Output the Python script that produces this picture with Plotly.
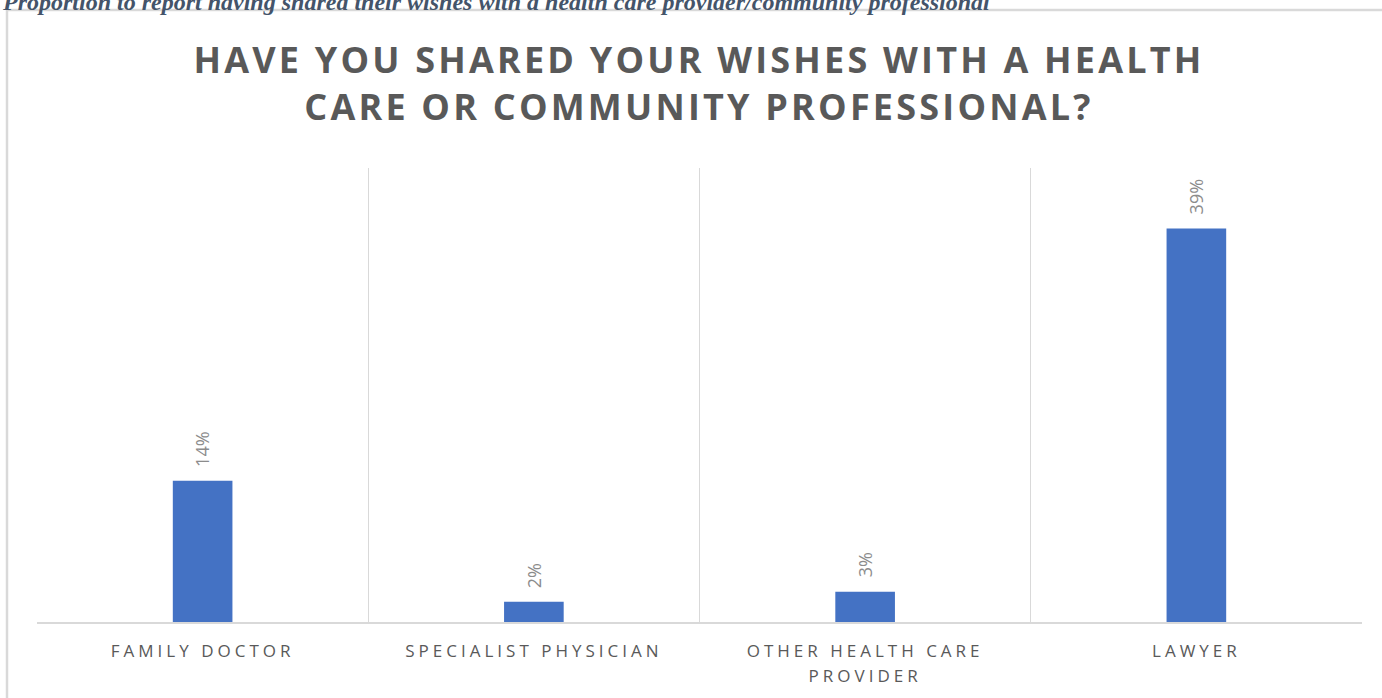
import plotly.graph_objects as go

categories = ["FAMILY DOCTOR", "SPECIALIST PHYSICIAN", "OTHER HEALTH CARE<br>PROVIDER", "LAWYER"]
values = [14, 2, 3, 39]
value_labels = ["14%", "2%", "3%", "39%"]

title_text = "HAVE YOU SHARED YOUR WISHES WITH A HEALTH<br>CARE OR COMMUNITY PROFESSIONAL?"
caption_text = "Proportion to report having shared their wishes with a health care provider/community professional"

W, H = 1382, 698
L, R, T, B = 37, 20, 168, 76
pw, ph = W - L - R, H - T - B

def px_x(px):
    return (px - L) / pw

def px_y(py):
    return (H - B - py) / ph

fig = go.Figure()
fig.add_trace(go.Bar(
    x=categories, y=values, width=0.18,
    marker=dict(color="#4472C4", line=dict(width=0)),
    hoverinfo="skip",
))

for c, v, t in zip(categories, values, value_labels):
    fig.add_annotation(
        x=c, y=v, xref="x", yref="y", text=t, showarrow=False,
        textangle=-90, yanchor="bottom", yshift=12,
        font=dict(family="Open Sans", size=18, color="#8c8c8c"),
    )

# caption (cut at top of page, as in the source)
fig.add_annotation(
    x=px_x(0), y=px_y(17), xref="paper", yref="paper", xanchor="left", yanchor="bottom",
    text="<b><i>" + caption_text + "</i></b>", showarrow=False,
    font=dict(family="Liberation Serif", size=24, color="#44546A"),
)

# chart border
fig.add_shape(type="rect", xref="paper", yref="paper",
              x0=px_x(7), x1=px_x(1395), y0=px_y(720), y1=px_y(10),
              line=dict(color="#D9D9D9", width=2.5), layer="below")

fig.update_layout(
    width=W, height=H,
    margin=dict(l=L, r=R, t=T, b=B),
    paper_bgcolor="white", plot_bgcolor="white",
    showlegend=False,
    title=dict(text="<b>" + title_text + "</b>", x=px_x(699), xref="paper", xanchor="center",
               y=1 - 73 / H, yref="container", yanchor="middle",
               font=dict(family="Open Sans", size=36, color="#595959")),
    xaxis=dict(
        type="category", tickson="boundaries", showgrid=True, gridcolor="#D9D9D9", gridwidth=1,
        showline=True, linecolor="#D9D9D9", linewidth=2, ticks="", ticklabelstandoff=13,
        tickfont=dict(family="Open Sans", size=17, color="#595959"),
        range=[-0.5, 3.5], fixedrange=True,
    ),
    yaxis=dict(range=[0, 45], showgrid=False, showticklabels=False, zeroline=False, showline=False,
               ticks="", fixedrange=True),
)

post = """
document.body.style.margin='0';
document.documentElement.style.margin='0';
var s=document.createElement('style');
s.textContent='body{margin:0 !important;} .gtitle{letter-spacing:3.2px;} .xtick text{letter-spacing:4px;}';
document.head.appendChild(s);
document.querySelectorAll('.xtick tspan.line').forEach(function(t){
  var dy=t.getAttribute('dy');
  if(dy && parseFloat(dy)>0){ t.setAttribute('dy','1.45em'); }
});
"""
fig.write_html("out.html", post_script=post, config={"displayModeBar": False})
